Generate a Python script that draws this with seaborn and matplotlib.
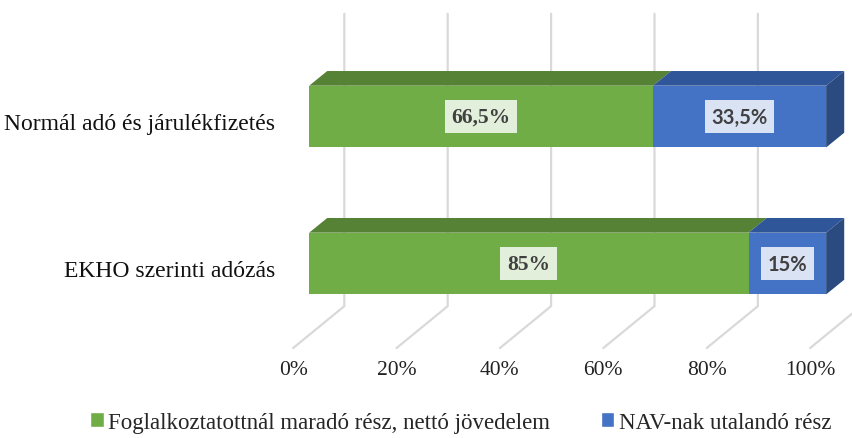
import numpy as np
import pandas as pd
import matplotlib.pyplot as plt
import seaborn as sns
from matplotlib.patches import Polygon, Patch

# ── Data ──────────────────────────────────────────────────────────────────────
categories = ["Normál adó és járulékfizetés", "EKHO szerinti adózás"]
net_share = [66.5, 85.0]      # Foglalkoztatottnál maradó rész
nav_share = [33.5, 15.0]      # NAV-nak utalandó rész
series_names = ["Foglalkoztatottnál maradó rész, nettó jövedelem",
                "NAV-nak utalandó rész"]
x_ticks = [0, 20, 40, 60, 80, 100]

# ── Style ─────────────────────────────────────────────────────────────────────
GREEN, GREEN_TOP = "#70AD47", "#558235"
BLUE, BLUE_TOP, BLUE_SIDE = "#4472C4", "#30569A", "#2A4A80"
GREEN_BOX, BLUE_BOX = "#E2EFDA", "#DAE3F3"
GRID = "#D9D9D9"
SERIF = ["Liberation Serif", "DejaVu Serif"]
SANS = ["Lato", "DejaVu Sans"]

BAR_H = 0.42          # bar thickness (category units)
DEPTH_X, DEPTH_Y = 3.5, 0.10      # bar depth offset
WALL_X = 6.8                      # back wall offset from bar front
FLOOR_X = -3.1                    # floor front edge offset
WALL_TOP, WALL_BOT, FLOOR_Y = -0.70, 1.29, 1.575

sns.set_theme(style="white")
plt.rcParams["font.family"] = SERIF

df = pd.DataFrame({"cat": categories, "net": net_share,
                   "total": np.add(net_share, nav_share)})

fig = plt.figure(figsize=(8.53, 4.39), dpi=100)
ax = fig.add_axes([0, 0, 1, 1])

# gridlines: back wall + floor diagonals
for v in x_ticks:
    ax.plot([v + WALL_X, v + WALL_X, v + FLOOR_X], [WALL_TOP, WALL_BOT, FLOOR_Y],
            color=GRID, lw=1.6, zorder=1, solid_joinstyle="miter")
    ax.text(v + FLOOR_X, 1.72, f"{v}%", ha="center", va="center",
            fontsize=15.5, color="#222222")

# front faces
sns.barplot(data=df, y="cat", x="total", color=BLUE, saturation=1,
            width=BAR_H, orient="h", ax=ax, zorder=3, linewidth=0)
sns.barplot(data=df, y="cat", x="net", color=GREEN, saturation=1,
            width=BAR_H, orient="h", ax=ax, zorder=3, linewidth=0)

# top and side faces
for i, (g, b) in enumerate(zip(net_share, nav_share)):
    top = i - BAR_H / 2
    bot = i + BAR_H / 2
    for x0, x1, col in [(0, g, GREEN_TOP), (g, g + b, BLUE_TOP)]:
        ax.add_patch(Polygon([(x0, top), (x1, top), (x1 + DEPTH_X, top - DEPTH_Y),
                              (x0 + DEPTH_X, top - DEPTH_Y)],
                             closed=True, fc=col, ec="none", zorder=3))
    xe = g + b
    ax.add_patch(Polygon([(xe, top), (xe, bot), (xe + DEPTH_X, bot - DEPTH_Y),
                          (xe + DEPTH_X, top - DEPTH_Y)],
                         closed=True, fc=BLUE_SIDE, ec="none", zorder=3))

    lab = lambda v: f"{v:g}".replace(".", ",") + "%"
    ax.text(g / 2, i, lab(g), ha="center", va="center", fontsize=15.5,
            fontweight="bold", color="#404040", family=SERIF, zorder=5,
            bbox=dict(boxstyle="square,pad=0.32", fc=GREEN_BOX, ec="none"))
    ax.text(g + b / 2, i, lab(b), ha="center", va="center", fontsize=14.5,
            fontweight="bold", color="#404040", family=SANS, zorder=5,
            bbox=dict(boxstyle="square,pad=0.34", fc=BLUE_BOX, ec="none"))

    ax.text(-6.6, i + 0.05, categories[i], ha="right", va="center",
            fontsize=17, color="#111111")

ax.set_xlim(-59.8, 105.2)
ax.set_ylim(2.187, -0.80)
ax.axis("off")

handles = [Patch(facecolor=GREEN), Patch(facecolor=BLUE)]
fig.legend(handles, series_names, loc="center", bbox_to_anchor=(0.54, 0.036),
           ncol=2, frameon=False, fontsize=16.5, handlelength=0.6, handleheight=0.6,
           handletextpad=0.2, columnspacing=2.2)

fig.savefig("out.png", dpi=100)
